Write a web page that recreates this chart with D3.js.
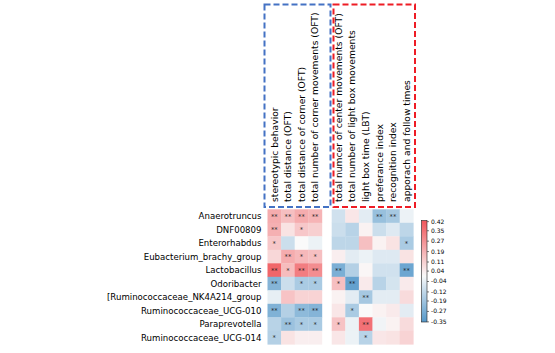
<!DOCTYPE html>
<html>
<head>
<meta charset="utf-8">
<script src="https://cdn.jsdelivr.net/npm/d3@7"></script>
<style>
  body { margin: 0; background: #fff; }
  text { font-family: "DejaVu Sans", sans-serif; }
</style>
</head>
<body>
<div id="chart"></div>
<script>
// Data
const genera = [
    "Anaerotruncus", "DNF00809", "Enterorhabdus", "Eubacterium_brachy_group",
    "Lactobacillus", "Odoribacter", "[Ruminococcaceae_NK4A214_group",
    "Ruminococcaceae_UCG-010", "Paraprevotella", "Ruminococcaceae_UCG-014"
];
const leftTraits = [
    "stereotypic behavior", "total distance (OFT)",
    "total distance of corner (OFT)", "total number of corner movements (OFT)"
];
const rightTraits = [
    "total numcer of center movements (OFT)", "total number of light box movements",
    "light box time (LBT)", "preferance index", "recognition index", "apporach and follow times"
];
// correlation values, one row per genus
const leftValues = [
    [0.20, 0.15, 0.20, 0.18],
    [0.19, 0.06, 0.13, 0.11],
    [0.13, -0.10, 0.00, -0.03],
    [0.09, 0.20, 0.17, 0.15],
    [0.38, 0.16, 0.32, 0.28],
    [-0.25, -0.10, -0.17, -0.17],
    [-0.04, 0.14, 0.10, 0.10],
    [-0.26, -0.15, -0.23, -0.25],
    [-0.14, -0.20, -0.17, -0.17],
    [-0.15, 0.06, 0.03, 0.03]
];
const rightValues = [
    [-0.09, 0.05, -0.05, -0.21, -0.18, -0.03],
    [-0.10, -0.14, 0.02, -0.10, -0.06, -0.13],
    [-0.13, -0.13, 0.15, 0.02, 0.06, -0.17],
    [0.03, -0.05, -0.03, -0.06, -0.06, 0.06],
    [-0.27, -0.15, 0.01, -0.09, -0.09, -0.30],
    [0.15, -0.32, 0.04, -0.14, -0.08, 0.04],
    [0.02, -0.05, -0.18, -0.05, -0.05, 0.08],
    [0.05, -0.17, 0.00, 0.02, 0.04, -0.05],
    [0.14, -0.03, 0.35, -0.02, 0.02, 0.08],
    [0.05, -0.03, -0.14, 0.05, 0.06, 0.10]
];
const leftStars = [
    ["**", "**", "**", "**"],
    ["**", "", "*", ""],
    ["*", "", "", ""],
    ["", "**", "*", "*"],
    ["**", "*", "**", "**"],
    ["**", "", "*", "*"],
    ["", "", "", ""],
    ["**", "", "**", "**"],
    ["", "**", "*", "*"],
    ["*", "", "", ""]
];
const rightStars = [
    ["", "", "", "**", "**", ""],
    ["", "", "", "", "", ""],
    ["", "", "", "", "", "*"],
    ["", "", "", "", "", ""],
    ["**", "", "", "", "", "**"],
    ["*", "**", "", "", "", ""],
    ["", "", "**", "", "", ""],
    ["", "*", "", "", "", ""],
    ["*", "", "**", "", "", ""],
    ["", "", "*", "", "", ""]
];
const colorbarTicks = ["0.42", "0.35", "0.27", "0.19", "0.11", "0.04", "-0.04", "-0.12", "-0.19", "-0.27", "-0.35"];

const width = 555;
const height = 353;

const svg = d3.select("#chart")
    .append("svg")
    .attr("width", width)
    .attr("height", height);

const yScale = d3.scaleBand()
    .domain(genera)
    .range([209.3, 344.3]);

const xLeft = d3.scaleBand()
    .domain(leftTraits)
    .range([267.5, 321.9]);

const xRight = d3.scaleBand()
    .domain(rightTraits)
    .range([331.7, 413.3]);

const color = d3.scaleLinear()
    .domain([-0.42, 0, 0.42])
    .range(["#3585c0", "#fafafa", "#f0565b"])
    .clamp(true);

function drawBlock(xScale, traits, values, stars) {
    const cells = [];
    genera.forEach((g, i) => {
        traits.forEach((t, j) => {
            cells.push({ g, t, v: values[i][j], s: stars[i][j] });
        });
    });

    const g = svg.append("g");
    g.selectAll("rect")
        .data(cells)
        .join("rect")
        .attr("x", d => xScale(d.t))
        .attr("y", d => yScale(d.g))
        .attr("width", xScale.bandwidth() + 0.3)
        .attr("height", yScale.bandwidth() + 0.3)
        .attr("fill", d => color(d.v));

    g.selectAll("text.star")
        .data(cells.filter(d => d.s))
        .join("text")
        .attr("class", "star")
        .attr("x", d => xScale(d.t) + xScale.bandwidth() / 2)
        .attr("y", d => yScale(d.g) + yScale.bandwidth() / 2 + 2.9)
        .attr("text-anchor", "middle")
        .style("font-size", "6.8px")
        .style("fill", "#1a1a1a")
        .text(d => d.s);

    // column labels, rotated
    g.selectAll("text.col")
        .data(traits)
        .join("text")
        .attr("class", "col")
        .attr("transform", d => `translate(${xScale(d) + xScale.bandwidth() / 2 + 3.3},202) rotate(-90)`)
        .style("font-size", "9.2px")
        .style("fill", "#000")
        .text(d => d);
}

drawBlock(xLeft, leftTraits, leftValues, leftStars);
drawBlock(xRight, rightTraits, rightValues, rightStars);

// row labels
svg.append("g")
    .selectAll("text")
    .data(genera)
    .join("text")
    .attr("x", 261.5)
    .attr("y", d => yScale(d) + yScale.bandwidth() / 2 + 3)
    .attr("text-anchor", "end")
    .style("font-size", "8.6px")
    .style("fill", "#000")
    .text(d => d);

// dashed group boxes
svg.append("rect")
    .attr("x", 264.5).attr("y", 4.5)
    .attr("width", 66).attr("height", 202.5)
    .attr("fill", "none")
    .attr("stroke", "#4472c4")
    .attr("stroke-width", 2)
    .attr("stroke-dasharray", "6,3");

svg.append("rect")
    .attr("x", 333.5).attr("y", 4.5)
    .attr("width", 81.5).attr("height", 202.5)
    .attr("fill", "none")
    .attr("stroke", "#ee1c25")
    .attr("stroke-width", 2)
    .attr("stroke-dasharray", "6,3");

// colorbar
const cbScale = d3.scaleLinear()
    .domain([-0.355, 0.425])
    .range([322, 220.5]);

const defs = svg.append("defs");
const grad = defs.append("linearGradient")
    .attr("id", "cb")
    .attr("x1", 0).attr("y1", 1)
    .attr("x2", 0).attr("y2", 0);
const cbDomain = cbScale.domain();
d3.range(0, 1.0001, 0.05).forEach(t => {
    grad.append("stop")
        .attr("offset", t)
        .attr("stop-color", color(cbDomain[0] + t * (cbDomain[1] - cbDomain[0])));
});

svg.append("rect")
    .attr("x", 421.5)
    .attr("y", cbScale.range()[1])
    .attr("width", 5.5)
    .attr("height", cbScale.range()[0] - cbScale.range()[1])
    .attr("fill", "url(#cb)")
    .attr("stroke", "#222")
    .attr("stroke-width", 0.6);

const cbAxis = d3.axisRight(cbScale)
    .tickValues(colorbarTicks.map(Number))
    .tickFormat((d, i) => colorbarTicks[i])
    .tickSize(2)
    .tickPadding(2);

const cbG = svg.append("g")
    .attr("transform", "translate(427,0)")
    .call(cbAxis);
cbG.select(".domain").remove();
cbG.selectAll(".tick line").attr("stroke", "#222").attr("stroke-width", 0.6);
cbG.selectAll(".tick text")
    .style("font-size", "6px")
    .style("font-family", "DejaVu Sans, sans-serif")
    .style("fill", "#000");
</script>
</body>
</html>
